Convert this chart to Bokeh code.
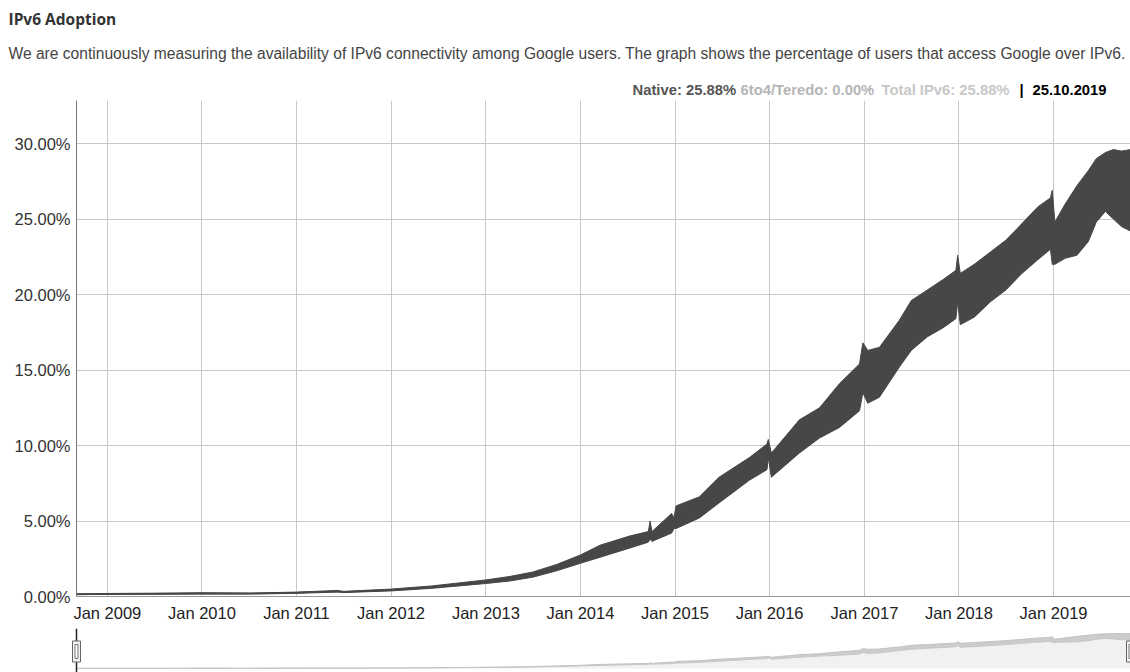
import numpy as np
import pandas as pd
from bokeh.plotting import figure
from bokeh.models import (Range1d, FixedTicker, DatetimeTickFormatter, PrintfTickFormatter,
                          Label, ColumnDataSource)
from bokeh.embed import file_html
from bokeh.resources import INLINE

# ---------------- data ----------------
dates = ["2008-09-04", "2009-01-01", "2009-07-01", "2010-01-01", "2010-07-01",
         "2011-01-01", "2011-06-08", "2011-07-01", "2012-01-01", "2012-06-06",
         "2012-10-01", "2013-01-01", "2013-04-01", "2013-07-01", "2013-10-01",
         "2014-01-01", "2014-03-18", "2014-07-09", "2014-09-20", "2014-09-27",
         "2014-10-04", "2014-12-19", "2014-12-28", "2015-01-05", "2015-04-05",
         "2015-06-20", "2015-10-15", "2015-12-22", "2015-12-27", "2016-01-08",
         "2016-04-25", "2016-07-12", "2016-09-27", "2016-12-13", "2016-12-26",
         "2017-01-14", "2017-02-28", "2017-05-16", "2017-07-01", "2017-09-01",
         "2017-11-01", "2017-12-20", "2017-12-27", "2018-01-06", "2018-03-01",
         "2018-05-01", "2018-07-01", "2018-09-01", "2018-11-01", "2018-12-20",
         "2018-12-27", "2019-01-06", "2019-02-15", "2019-04-01", "2019-05-15",
         "2019-06-15", "2019-07-20", "2019-08-20", "2019-09-20", "2019-10-25"]
native_low = [0.12, 0.14, 0.15, 0.16, 0.16, 0.21, 0.29, 0.26, 0.37, 0.54,
              0.72, 0.86, 1.02, 1.28, 1.70, 2.20, 2.60, 3.20, 3.60, 3.80,
              3.65, 4.20, 4.50, 4.50, 5.20, 6.20, 7.70, 8.40, 9.20, 7.90,
              9.50, 10.5, 11.2, 12.3, 13.5, 12.8, 13.2, 15.2, 16.3, 17.2,
              17.8, 18.4, 19.5, 18.0, 18.5, 19.5, 20.3, 21.4, 22.3, 23.0,
              22.0, 22.0, 22.4, 22.6, 23.5, 24.8, 25.5, 25.0, 24.5, 24.2]
native_high = [0.18, 0.20, 0.22, 0.25, 0.23, 0.29, 0.40, 0.34, 0.49, 0.70,
               0.92, 1.10, 1.32, 1.62, 2.12, 2.75, 3.40, 4.00, 4.30, 5.00,
               4.30, 5.50, 5.20, 6.00, 6.60, 7.90, 9.20, 10.1, 10.4, 9.50,
               11.7, 12.5, 14.1, 15.4, 16.8, 16.3, 16.5, 18.3, 19.6, 20.3,
               21.0, 21.6, 22.6, 21.4, 22.0, 22.8, 23.6, 24.7, 25.8, 26.4,
               26.9, 24.8, 26.0, 27.2, 28.2, 29.0, 29.4, 29.6, 29.5, 29.6]
year_ticks = ["2009-01-01", "2010-01-01", "2011-01-01", "2012-01-01", "2013-01-01",
              "2014-01-01", "2015-01-01", "2016-01-01", "2017-01-01", "2018-01-01",
              "2019-01-01"]
y_ticks = [0, 5, 10, 15, 20, 25, 30]
y_max = 32.85

title_text = "IPv6 Adoption"
desc_text = ("We are continuously measuring the availability of IPv6 connectivity among Google users. "
             "The graph shows the percentage of users that access Google over IPv6.")
legend_parts = ["Native: 25.88%", "6to4/Teredo: 0.00%", "Total IPv6: 25.88%", "|", "25.10.2019"]
legend_colors = ["#555555", "#b5b5b5", "#c8c8c8", "#000000", "#000000"]

# ---------------- build ----------------
x_ms = (pd.to_datetime(dates).astype("int64") // 10**6).to_numpy().astype(float)
tick_ms = list((pd.to_datetime(year_ticks).astype("int64") // 10**6).astype(float))
low = np.array(native_low)
high = np.array(native_high)
src = ColumnDataSource(dict(x=x_ms, low=low, high=high, mid=(low + high) / 2,
                            zero=np.zeros_like(low)))

W = 1130
HEAD_H = 100
FL, FB = 76, 32
FRAME_H = 496
MAIN_H = FRAME_H + FB
NAV_H = 672 - HEAD_H - MAIN_H

# ---------------- header ----------------
h = figure(width=W, height=HEAD_H, x_range=Range1d(0, W), y_range=Range1d(0, HEAD_H),
           output_backend="svg", toolbar_location=None,
           min_border_left=0, min_border_right=0, min_border_top=0, min_border_bottom=0)
h.outline_line_color = None
h.axis.visible = False
h.grid.visible = False
h.add_layout(Label(x=8, y=HEAD_H - 18, x_units="screen", y_units="screen",
                   text=title_text, text_font="Open Sans", text_font_style="bold",
                   text_font_size="15.5px", text_color="#333333", text_baseline="middle"))
h.add_layout(Label(x=8, y=HEAD_H - 53, x_units="screen", y_units="screen",
                   text=desc_text, text_font="Liberation Sans",
                   text_font_size="15.6px", text_color="#444444", text_baseline="middle"))
legend_x = [632, 740, 881, 1019, 1032]
for txt, col, lx in zip(legend_parts, legend_colors, legend_x):
    h.add_layout(Label(x=lx, y=HEAD_H - 89, x_units="screen", y_units="screen",
                       text=txt, text_font="Liberation Sans", text_font_style="bold",
                       text_font_size="14.8px", text_color=col, text_baseline="middle"))

# ---------------- main chart ----------------
p = figure(width=W, height=MAIN_H, x_axis_type="datetime",
           x_range=Range1d(x_ms[0], x_ms[-1]), y_range=Range1d(0, y_max),
           output_backend="svg", toolbar_location=None,
           min_border_left=FL, min_border_right=0, min_border_top=0, min_border_bottom=FB)
p.outline_line_color = None

p.xgrid.ticker = FixedTicker(ticks=tick_ms)
p.ygrid.ticker = FixedTicker(ticks=y_ticks)
p.xgrid.grid_line_color = "#c8c8c8"
p.ygrid.grid_line_color = "#c8c8c8"

xa = p.xaxis[0]
xa.ticker = FixedTicker(ticks=tick_ms)
fmt = "%b %Y"
xa.formatter = DatetimeTickFormatter(years=fmt, months=fmt, days=fmt, hours=fmt,
                                     minutes=fmt, seconds=fmt, milliseconds=fmt,
                                     minsec=fmt, hourmin=fmt)
xa.major_tick_line_color = None
xa.minor_tick_line_color = None
xa.axis_line_color = "#999999"
xa.major_label_text_font = "Liberation Sans"
xa.major_label_text_font_size = "16.5px"
xa.major_label_text_color = "#222222"
xa.major_label_standoff = 1

ya = p.yaxis[0]
ya.ticker = FixedTicker(ticks=y_ticks)
ya.formatter = PrintfTickFormatter(format="%.2f%%")
ya.major_tick_line_color = None
ya.minor_tick_line_color = None
ya.axis_line_color = "#777777"
ya.major_label_text_font = "Liberation Sans"
ya.major_label_text_font_size = "16.5px"
ya.major_label_text_color = "#333333"
ya.major_label_standoff = 0

band = "#474747"
p.varea(x="x", y1="low", y2="high", source=src, fill_color=band)
p.line(x="x", y="high", source=src, line_color=band, line_width=1)
p.line(x="x", y="low", source=src, line_color=band, line_width=1)
p.line(x="x", y="mid", source=src, line_color=band, line_width=1.5)

# ---------------- navigator ----------------
NL = 68
pad = (x_ms[-1] - x_ms[0]) * (FL - NL) / (W - FL)
pxp = 1.18                      # pixels per percent in the overview
y0 = -(4 / pxp)
y1 = y0 + NAV_H / pxp
n = figure(width=W, height=NAV_H, x_range=Range1d(x_ms[0] - pad, x_ms[-1]),
           y_range=Range1d(y0, y1), output_backend="svg", toolbar_location=None,
           min_border_left=NL, min_border_right=0, min_border_top=0, min_border_bottom=0)
n.outline_line_color = None
n.axis.visible = False
n.grid.visible = False
n.varea(x="x", y1="zero", y2="low", source=src, fill_color="#f1f1f1")
n.varea(x="x", y1="low", y2="high", source=src, fill_color="#cccccc")
n.line(x="x", y="high", source=src, line_color="#c2c2c2", line_width=1)
n.line(x="x", y="low", source=src, line_color="#c6c6c6", line_width=1)
n.segment(x0=[x_ms[0]], y0=[y0], x1=[x_ms[0]], y1=[y1], line_color="#222222", line_width=1.5)
hy = y0 + (NAV_H - 23) / pxp
for xe in (x_ms[0], x_ms[-1]):
    n.rect(x=[xe], y=[hy], width=8, height=21, width_units="screen", height_units="screen",
           fill_color="#f4f4f4", line_color="#666666", line_width=1)
    n.rect(x=[xe], y=[hy], width=3, height=14, width_units="screen", height_units="screen",
           fill_color="white", line_color="#777777", line_width=1)

open("out.html", "w").write(file_html([h, p, n], INLINE))
